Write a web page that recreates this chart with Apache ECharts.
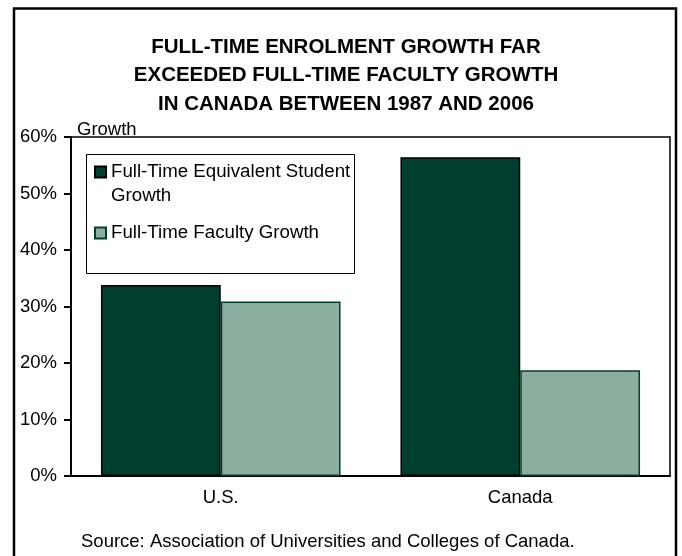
<!DOCTYPE html>
<html>
<head>
<meta charset="utf-8">
<script src="https://cdn.jsdelivr.net/npm/echarts@6/dist/echarts.min.js"></script>
<style>
  html, body { margin: 0; padding: 0; background: #fff; }
  #chart { width: 682px; height: 556px; }
</style>
</head>
<body>
<div id="chart"></div>
<script>
// Enrolment vs. faculty growth, 1987–2006
const categories = ['U.S.', 'Canada'];
const studentGrowth = [33.8, 56.4];   // full-time equivalent students, %
const facultyGrowth = [30.9, 18.7];   // full-time faculty, %
const yTicks = { min: 0, max: 60, interval: 10 };

const seriesNames = ['Full-Time Equivalent Student Growth', 'Full-Time Faculty Growth'];
const font = '"Liberation Sans", Arial, Helvetica, sans-serif';
const darkGreen = '#003F2E';
const paleGreen = '#8CAE9F';
const labelSize = 18.5;
const legendSize = 18.7;

const chart = echarts.init(document.getElementById('chart'), null, { renderer: 'canvas' });

chart.setOption({
  backgroundColor: '#ffffff',
  animation: false,
  textStyle: { fontFamily: font, color: '#000' },
  title: [
    {
      text: 'FULL-TIME ENROLMENT GROWTH FAR\nEXCEEDED FULL-TIME FACULTY GROWTH\nIN CANADA BETWEEN 1987 AND 2006',
      left: 341,
      top: 28,
      textAlign: 'center',
      textStyle: { fontFamily: font, fontSize: 20.5, fontWeight: 'bold', lineHeight: 28.5, color: '#000' }
    },
    {
      text: 'Source: Association of Universities and Colleges of Canada.',
      left: 76,
      top: 527,
      textStyle: { fontFamily: font, fontSize: labelSize, fontWeight: 'normal', color: '#000' }
    }
  ],
  legend: [
    {
      // leading blank line keeps the marker level with the first text line
      data: [{ name: seriesNames[0] }],
      orient: 'vertical',
      left: 94,
      top: 136.75,
      padding: 0,
      z: 10,
      itemWidth: 11,
      itemHeight: 11,
      itemGap: 5,
      icon: 'rect',
      selectedMode: false,
      formatter: () => ' \nFull-Time Equivalent Student\nGrowth',
      textStyle: { fontFamily: font, fontSize: legendSize, color: '#000', lineHeight: 23.5 }
    },
    {
      data: [{ name: seriesNames[1] }],
      orient: 'vertical',
      left: 94,
      top: 221.5,
      padding: 0,
      z: 10,
      itemWidth: 11,
      itemHeight: 11,
      icon: 'rect',
      selectedMode: false,
      textStyle: { fontFamily: font, fontSize: legendSize, color: '#000', lineHeight: 23 }
    }
  ],
  grid: {
    left: 71,
    top: 137,
    right: 12,
    bottom: 80,
    show: true,
    borderColor: '#000',
    borderWidth: 1.5,
    backgroundColor: 'transparent'
  },
  xAxis: {
    type: 'category',
    data: categories,
    axisLine: { lineStyle: { color: '#000', width: 2 } },
    axisTick: { show: false },
    axisLabel: { fontFamily: font, fontSize: labelSize, color: '#000', margin: 12 }
  },
  yAxis: {
    type: 'value',
    min: yTicks.min,
    max: yTicks.max,
    interval: yTicks.interval,
    name: 'Growth',
    nameLocation: 'end',
    nameGap: -2,
    nameTextStyle: { fontFamily: font, fontSize: labelSize, color: '#000', align: 'left', verticalAlign: 'bottom', padding: [0, 0, 0, 6] },
    axisLine: { show: true, lineStyle: { color: '#000', width: 2 } },
    axisTick: { show: true, length: 7, lineStyle: { color: '#000', width: 2 } },
    splitLine: { show: false },
    axisLabel: { fontFamily: font, fontSize: labelSize, color: '#000', margin: 14, formatter: '{value}%' }
  },
  series: [
    {
      name: seriesNames[0],
      type: 'bar',
      data: studentGrowth,
      barGap: '0%',
      barCategoryGap: '20%',
      itemStyle: { color: darkGreen, borderColor: '#000', borderWidth: 1.5 }
    },
    {
      name: seriesNames[1],
      type: 'bar',
      data: facultyGrowth,
      barGap: '0%',
      barCategoryGap: '20%',
      itemStyle: { color: paleGreen, borderColor: darkGreen, borderWidth: 1.5 }
    }
  ],
  graphic: [
    // outer frame around the whole figure
    {
      type: 'rect',
      z: 100,
      silent: true,
      shape: { x: 14, y: 8.5, width: 662, height: 560 },
      style: { fill: 'none', stroke: '#000', lineWidth: 2.5 }
    },
    // legend box
    {
      type: 'rect',
      z: 1,
      silent: true,
      shape: { x: 86.5, y: 154.5, width: 268, height: 119 },
      style: { fill: '#fff', stroke: '#000', lineWidth: 1 }
    }
  ]
});
</script>
</body>
</html>
